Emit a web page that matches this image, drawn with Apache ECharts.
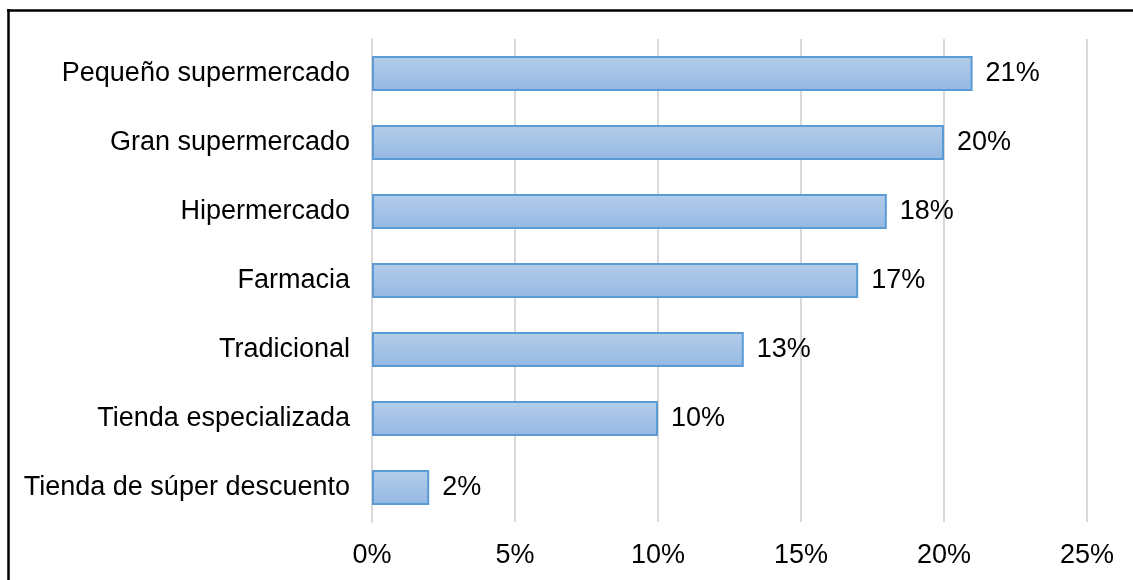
<!DOCTYPE html>
<html>
<head>
<meta charset="utf-8">
<script src="https://cdn.jsdelivr.net/npm/echarts@6/dist/echarts.min.js"></script>
<style>
  html, body { margin: 0; padding: 0; background: #fff; }
  #chart { width: 1133px; height: 580px; }
</style>
</head>
<body>
<div id="chart"></div>
<script>
// Store formats, top to bottom
const categories = [
  'Pequeño supermercado',
  'Gran supermercado',
  'Hipermercado',
  'Farmacia',
  'Tradicional',
  'Tienda especializada',
  'Tienda de súper descuento'
];
// Share per format, in percent
const shares = [21, 20, 18, 17, 13, 10, 2];
// Value axis range
const axisMin = 0;
const axisMax = 25;
const axisStep = 5;

const FONT = '"Liberation Sans", Arial, sans-serif';
const FONT_SIZE = 27;
const chart = echarts.init(document.getElementById('chart'), null, { renderer: 'canvas' });

chart.setOption({
  backgroundColor: '#ffffff',
  animation: false,
  textStyle: { fontFamily: FONT },
  grid: { left: 372, right: 46, top: 39, bottom: 58, containLabel: false },
  xAxis: {
    type: 'value',
    min: axisMin,
    max: axisMax,
    interval: axisStep,
    axisLine: { show: false },
    axisTick: { show: false },
    splitLine: { show: true, lineStyle: { color: '#d9d9d9', width: 2 } },
    axisLabel: {
      color: '#000',
      fontSize: FONT_SIZE,
      fontFamily: FONT,
      margin: 20,
      formatter: v => v + '%'
    }
  },
  yAxis: {
    type: 'category',
    inverse: true,
    data: categories,
    axisLine: { show: true, lineStyle: { color: '#d9d9d9', width: 2 } },
    axisTick: { show: false },
    axisLabel: { color: '#000', fontSize: FONT_SIZE, fontFamily: FONT, margin: 22 }
  },
  series: [{
    type: 'bar',
    data: shares,
    barWidth: '51%',
    itemStyle: {
      color: new echarts.graphic.LinearGradient(0, 0, 0, 1, [
        { offset: 0, color: '#b4cdea' },
        { offset: 1, color: '#94b8e3' }
      ]),
      borderColor: '#5b9bd5',
      borderWidth: 2
    },
    label: {
      show: true,
      position: 'right',
      distance: 13,
      color: '#000',
      fontSize: FONT_SIZE,
      fontFamily: FONT,
      formatter: p => p.value + '%'
    }
  }],
  graphic: [
    { type: 'line', shape: { x1: 7, y1: 10.5, x2: 1133, y2: 10.5 }, style: { stroke: '#000', lineWidth: 2.5 } },
    { type: 'line', shape: { x1: 8.5, y1: 9, x2: 8.5, y2: 580 }, style: { stroke: '#000', lineWidth: 2.5 } }
  ]
});
</script>
</body>
</html>
